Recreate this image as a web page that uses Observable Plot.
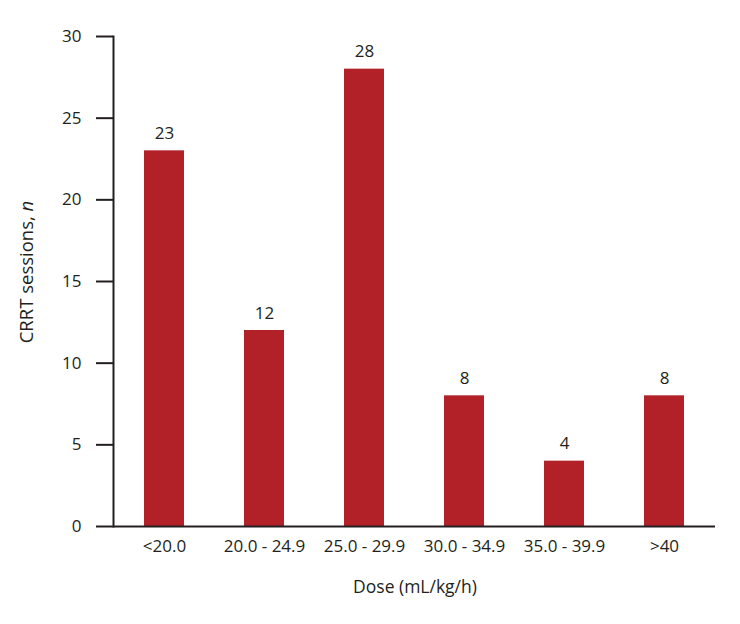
<!DOCTYPE html>
<html>
<head>
<meta charset="utf-8">
<script src="https://cdn.jsdelivr.net/npm/d3@7"></script>
<script src="https://cdn.jsdelivr.net/npm/@observablehq/plot@0.6"></script>
<style>
  html, body { margin: 0; padding: 0; background: #fff; }
  #chart { width: 740px; height: 624px; }
  svg { font-family: "Open Sans", sans-serif; }
</style>
</head>
<body>
<div id="chart"></div>
<script>
const categories = ["<20.0", "20.0 - 24.9", "25.0 - 29.9", "30.0 - 34.9", "35.0 - 39.9", ">40"];
const sessions = [23, 12, 28, 8, 4, 8];
const yTicks = [0, 5, 10, 15, 20, 25, 30];
const xTitle = "Dose (mL/kg/h)";
const yTitleMain = "CRRT sessions, ";
const yTitleItalic = "n";

const data = categories.map((c, i) => ({category: c, value: sessions[i]}));
const ink = "#231f20";
const barColor = "#b22028";
const fs = 17;

const plot = Plot.plot({
  width: 740,
  height: 624,
  marginLeft: 113,
  marginRight: 25,
  marginTop: 36,
  marginBottom: 98,
  style: {fontFamily: "'Open Sans', sans-serif", fontSize: fs + "px", color: ink, background: "#fff"},
  x: {domain: categories, paddingInner: 0.6, paddingOuter: 0.3, label: null},
  y: {domain: [0, 30], label: null},
  marks: [
    Plot.barY(data, {x: "category", y: "value", fill: barColor}),
    Plot.text(data, {x: "category", y: "value", text: d => String(d.value), dy: -12, lineAnchor: "bottom", fill: ink, fontSize: fs}),
    Plot.ruleY([0], {stroke: ink, strokeWidth: 2}),
    Plot.frame({anchor: "left", stroke: ink, strokeWidth: 2}),
    Plot.axisY({ticks: yTicks, tickSize: 17, tickPadding: 15, stroke: ink, strokeWidth: 2, strokeOpacity: 1, fill: ink, label: null, fontSize: fs}),
    Plot.axisX({tickSize: 0, tickPadding: 13, fill: ink, label: null, fontSize: fs})
  ]
});

const svg = d3.select(plot);
svg.append("text")
  .attr("x", 415).attr("y", 593)
  .attr("text-anchor", "middle")
  .attr("fill", ink).attr("font-size", 17.5)
  .text(xTitle);
const yt = svg.append("text")
  .attr("transform", "translate(33,272) rotate(-90)")
  .attr("text-anchor", "middle")
  .attr("fill", ink).attr("font-size", 18.5);
yt.append("tspan").text(yTitleMain);
yt.append("tspan").attr("font-style", "italic").text(yTitleItalic);

document.getElementById("chart").append(plot);
</script>
</body>
</html>
